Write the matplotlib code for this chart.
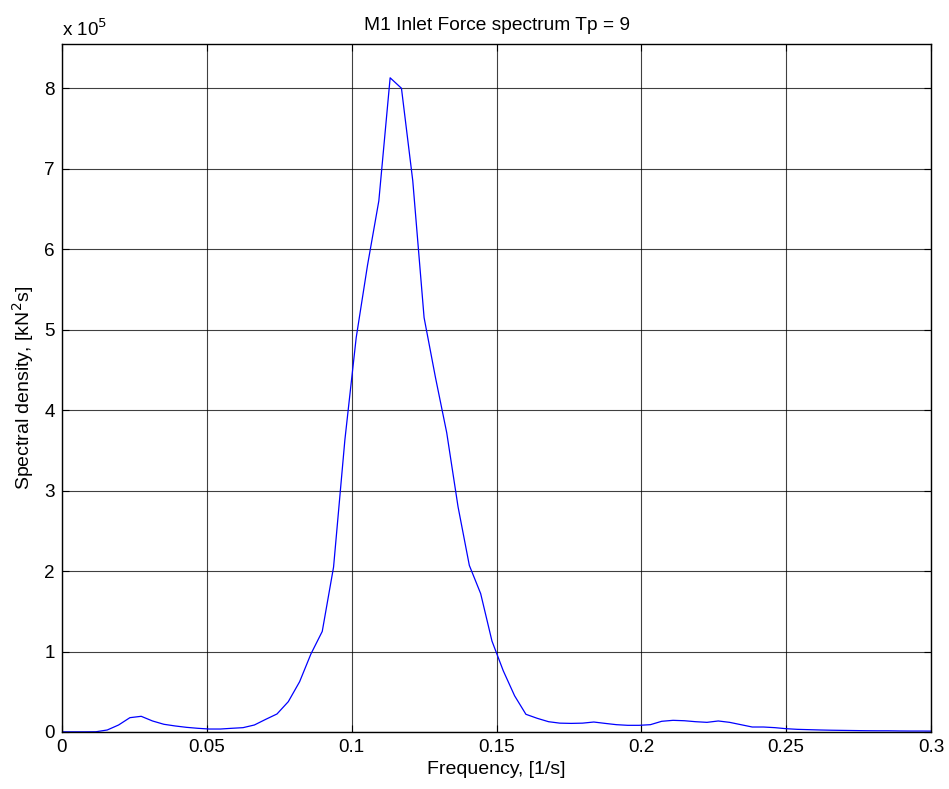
import numpy as np
import matplotlib
matplotlib.use("Agg")
import matplotlib.pyplot as plt
from matplotlib.ticker import FuncFormatter

plt.rcParams['font.family'] = ['Liberation Sans', 'DejaVu Sans']

# frequency step of the spectrum (1/256 Hz)
df = 1.0 / 256
# spectral density, kN^2 s (units of 1e5)
density = [0.002, 0.002, 0.002, 0.003, 0.025, 0.087, 0.178, 0.195, 0.137, 0.096,
           0.075, 0.058, 0.046, 0.037, 0.037, 0.046, 0.054, 0.087, 0.157, 0.224,
           0.377, 0.625, 0.97, 1.25, 2.05, 3.63, 4.9, 5.8, 6.6, 8.13,
           8.0, 6.85, 5.15, 4.41, 3.72, 2.8, 2.07, 1.72, 1.13, 0.76,
           0.45, 0.22, 0.17, 0.128, 0.11, 0.107, 0.11, 0.124, 0.107, 0.091,
           0.083, 0.083, 0.091, 0.133, 0.145, 0.14, 0.128, 0.12, 0.137, 0.12,
           0.091, 0.062, 0.062, 0.054, 0.041, 0.033, 0.029, 0.025, 0.022, 0.02,
           0.018, 0.016, 0.015, 0.015, 0.013, 0.012, 0.012, 0.011]
density = np.array(density) * 1e5
freq = np.arange(len(density)) * df

xticks = [0, 0.05, 0.1, 0.15, 0.2, 0.25, 0.3]
xticklabels = ['0', '0.05', '0.1', '0.15', '0.2', '0.25', '0.3']
yticks = np.arange(0, 9) * 1e5

fig = plt.figure(figsize=(9.49, 7.89), dpi=100)
ax = fig.add_axes([62 / 949, 1 - 732 / 789, 869 / 949, 688 / 789])

ax.plot(freq, density, color='#0000ff', linewidth=0.9)

ax.set_xlim(0, 0.3)
ax.set_ylim(0, 8.55e5)
ax.set_xticks(xticks)
ax.set_xticklabels(xticklabels)
ax.set_yticks(yticks)
ax.yaxis.set_major_formatter(FuncFormatter(lambda v, p: '%d' % round(v / 1e5)))

ax.grid(True, color='black', linewidth=0.8, alpha=0.75)
ax.tick_params(direction='in', length=5, width=0.8, top=True, right=True,
               labelsize=13.6, pad=5)
for s in ax.spines.values():
    s.set_linewidth(1.0)

# exponent label above the y axis
ax.text(0, 1.012, 'x 10$^5$', transform=ax.transAxes, fontsize=13.6,
        ha='left', va='baseline')
ax.set_title('M1 Inlet Force spectrum Tp = 9', fontsize=13.8, pad=10)
ax.set_xlabel('Frequency, [1/s]', fontsize=14, labelpad=4)
ax.set_ylabel('Spectral density, [kN$^2$s]', fontsize=14, labelpad=6)

fig.savefig('out.png', dpi=100)
